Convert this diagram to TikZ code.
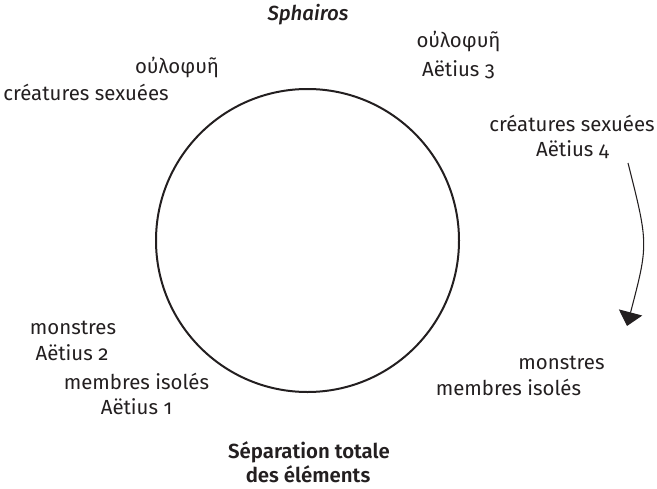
\documentclass[tikz,border=0pt]{standalone}
\usepackage{fontspec}
\setmainfont{Fira Sans}[BoldFont={Fira Sans SemiBold}, ItalicFont={Fira Sans Medium Italic}, Numbers=OldStyle]
\usetikzlibrary{arrows.meta}
\definecolor{ink}{HTML}{231F20}
\tikzset{
  lbl/.style={anchor=base, inner sep=0pt, text=ink, font=\fontsize{15.3}{19}\selectfont},
  circ/.style={draw=ink, line width=1.5pt},
  turn/.style={draw=ink, line width=0.8pt, -{Triangle[width=18pt,length=10.5pt]}}
}
\begin{document}
\begin{tikzpicture}[x=0.75pt,y=-0.75pt]
\useasboundingbox (0,0) rectangle (657,489);
\node[circ, circle, minimum size=303*0.75pt, inner sep=0pt] (c) at (307.5,240.5) {};
\node[lbl, font=\fontsize{15.3}{19}\selectfont\itshape] (sph) at (308,20) {Sphairos};
\node[lbl] (g1) at (458.5,47) {οὐλοφυῆ};
\node[lbl] (a3) at (458.5,76) {Aëtius 3};
\node[lbl] (cs1) at (572,131.7) {créatures sexuées};
\node[lbl] (a4) at (572.5,156.7) {Aëtius 4};
\node[lbl] (g2) at (177,73) {οὐλοφυῆ};
\node[lbl] (cs2) at (86,100) {créatures sexuées};
\node[lbl] (m1) at (73,334) {monstres};
\node[lbl] (a2) at (72,360) {Aëtius 2};
\node[lbl] (mi1) at (136.5,389) {membres isolés};
\node[lbl] (a1) at (136.5,414) {Aëtius 1};
\node[lbl] (m2) at (561.5,369) {monstres};
\node[lbl] (mi2) at (508.5,395) {membres isolés};
\node[lbl, font=\fontsize{15.3}{19}\selectfont\bfseries] (sep1) at (309,458) {Séparation totale};
\node[lbl, font=\fontsize{15.3}{19}\selectfont\bfseries] (sep2) at (308,482.7) {des éléments};
\coordinate (s) at (628,163);
\coordinate (e) at (627,326);
\draw[turn] (s) .. controls (648.5,244) .. (e);
\end{tikzpicture}
\end{document}
